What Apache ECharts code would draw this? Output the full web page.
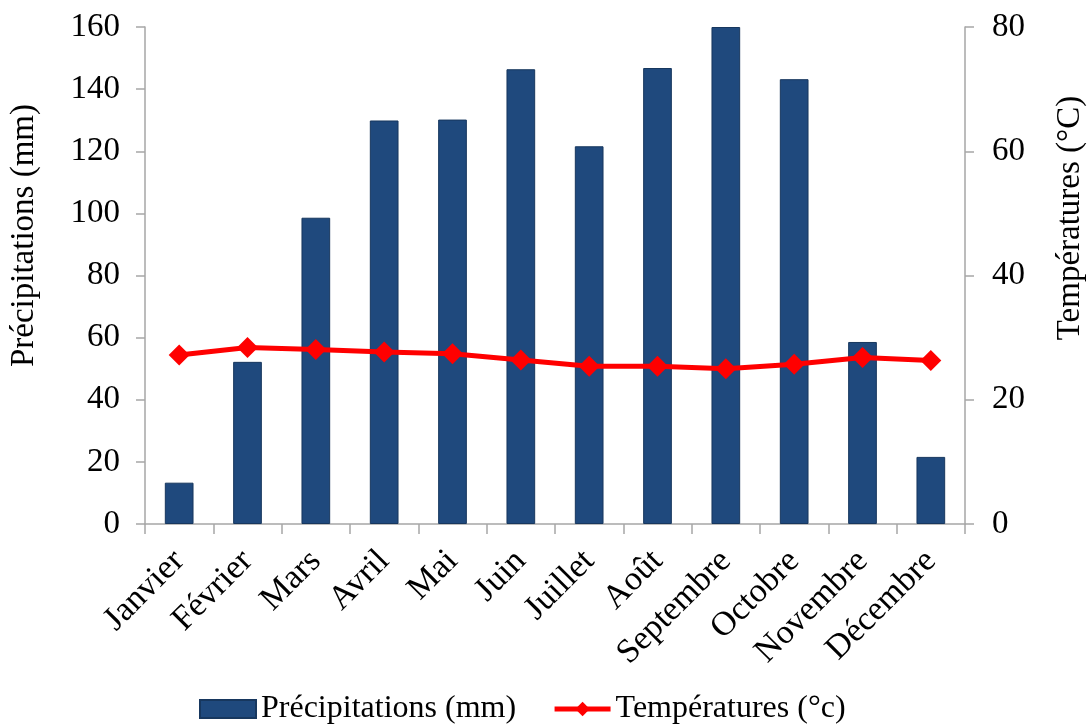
<!DOCTYPE html>
<html>
<head>
<meta charset="utf-8">
<script src="https://cdn.jsdelivr.net/npm/echarts@6/dist/echarts.min.js"></script>
<style>
html,body{margin:0;padding:0;background:#fff;}
#chart{width:1087px;height:724px;}
</style>
</head>
<body>
<div id="chart"></div>
<script>
var months = ['Janvier','Février','Mars','Avril','Mai','Juin','Juillet','Août','Septembre','Octobre','Novembre','Décembre'];
var precipitations = [13.3, 52.2, 98.6, 129.9, 130.2, 146.4, 121.6, 146.8, 160, 143.2, 58.6, 21.6];
var temperatures = [27.2, 28.4, 28.1, 27.7, 27.4, 26.4, 25.4, 25.4, 25.0, 25.7, 26.8, 26.3];
var precipName = 'Précipitations (mm)';
var tempName = 'Températures (°c)';
var leftAxisName = 'Précipitations (mm)';
var rightAxisName = 'Températures (°C)';

var FONT = '"Liberation Serif", "Times New Roman", serif';
var FS = 33;
var axisGray = '#A6A6A6';

var chart = echarts.init(document.getElementById('chart'), null, {renderer:'canvas'});
chart.setOption({
  animation: false,
  backgroundColor: '#ffffff',
  textStyle: {fontFamily: FONT, color: '#000'},
  grid: {left: 145, right: 122, top: 27, bottom: 200, containLabel: false, outerBoundsMode: 'none'},
  legend: {
    top: 688, left: 194,
    itemWidth: 56, itemHeight: 18, itemGap: 36,
    textStyle: {fontFamily: FONT, fontSize: 32, color: '#000'},
    data: [
      {name: precipName, icon: 'rect'},
      {name: tempName, lineStyle: {width: 5, color: '#FF0000'}}
    ]
  },
  xAxis: {
    type: 'category',
    data: months,
    boundaryGap: true,
    axisLine: {lineStyle: {color: axisGray, width: 1.5}},
    axisTick: {show: true, alignWithLabel: false, length: 10, lineStyle: {color: axisGray, width: 1.5}},
    axisLabel: {rotate: 45, fontFamily: FONT, fontSize: 34, color: '#000', margin: 32, interval: 0}
  },
  yAxis: [
    {
      type: 'value', min: 0, max: 160, interval: 20, position: 'left',
      name: leftAxisName, nameLocation: 'middle', nameRotate: 90, nameGap: 104, nameMoveOverlap: false,
      nameTextStyle: {fontFamily: FONT, fontSize: FS, color: '#000', padding: [0, 0, 0, 80]},
      splitLine: {show: false},
      axisLine: {show: true, lineStyle: {color: axisGray, width: 1.5}},
      axisTick: {show: true, length: 9, lineStyle: {color: axisGray, width: 1.5}},
      axisLabel: {fontFamily: FONT, fontSize: FS, color: '#000', margin: 25}
    },
    {
      type: 'value', min: 0, max: 80, interval: 20, position: 'right',
      name: rightAxisName, nameLocation: 'middle', nameRotate: 90, nameGap: 89, nameMoveOverlap: false,
      nameTextStyle: {fontFamily: FONT, fontSize: FS, color: '#000', padding: [0, 0, 0, 115]},
      splitLine: {show: false},
      axisLine: {show: true, lineStyle: {color: axisGray, width: 1.5}},
      axisTick: {show: true, length: 9, lineStyle: {color: axisGray, width: 1.5}},
      axisLabel: {fontFamily: FONT, fontSize: FS, color: '#000', margin: 27}
    }
  ],
  series: [
    {
      name: precipName, type: 'bar', yAxisIndex: 0,
      data: precipitations, barWidth: '42%',
      itemStyle: {color: '#1F497D', borderColor: '#17375E', borderWidth: 1}
    },
    {
      name: tempName, type: 'line', yAxisIndex: 1,
      data: temperatures,
      lineStyle: {color: '#FF0000', width: 5},
      itemStyle: {color: '#FF0000'},
      symbol: 'diamond', symbolSize: [21, 21], showSymbol: true
    }
  ]
});
</script>
</body>
</html>
